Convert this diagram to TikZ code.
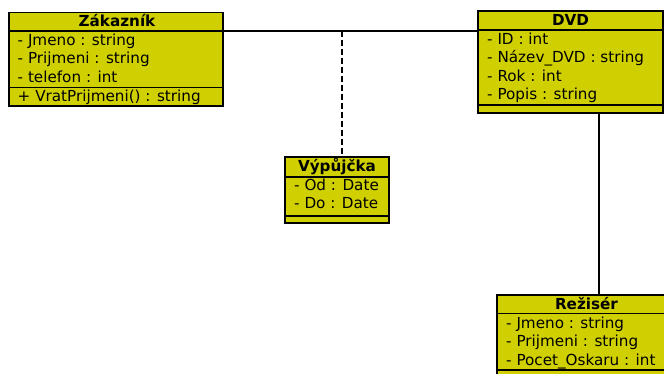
\documentclass[tikz,border=0pt]{standalone}
\usepackage{fontspec}
\setmainfont{DejaVu Sans}
\definecolor{classfill}{RGB}{208,208,0}
\begin{document}
\begin{tikzpicture}[x=1pt,y=-1pt,
  classbox/.style={draw=black, fill=classfill, line width=1.3pt, rectangle, inner sep=0pt},
  sep/.style={draw=black, line width=1.3pt},
  ctitle/.style={anchor=base, inner sep=0pt, font=\fontsize{15.2}{18}\selectfont\bfseries},
  attr/.style={anchor=base west, inner sep=0pt, font=\fontsize{15.2}{18}\selectfont},
  assoc/.style={draw=black, line width=1.3pt},
  link/.style={draw=black, line width=1.3pt, dash pattern=on 6pt off 3pt}]
\useasboundingbox (0,0) rectangle (664,374);
\fill[white] (0,0) rectangle (664,374);

% class Zákazník
\node[classbox, minimum width=214pt, minimum height=93.5pt] (zak) at (116,59.25) {};
\draw[sep] (9,31) -- (223,31);
\draw[sep] (9,87.5) -- (223,87.5);
\node[ctitle] (zakt) at (117,26.7) {Zákazník};
\node[attr] (zak1) at (17.5,45.3) {- Jmeno : string};
\node[attr] (zak2) at (17.5,63.8) {- Prijmeni : string};
\node[attr] (zak3) at (17.5,82.3) {- telefon : int};
\node[attr] (zak4) at (17.5,101.3) {+ VratPrijmeni() : string};

% class DVD
\node[classbox, minimum width=185pt, minimum height=102pt] (dvd) at (570.5,62) {};
\draw[sep] (478,30) -- (663,30);
\draw[sep] (478,105) -- (663,105);
\node[ctitle] (dvdt) at (570.5,25.5) {DVD};
\node[attr] (dvd1) at (487,44.3) {- ID : int};
\node[attr] (dvd2) at (487,62.8) {- Název\_DVD : string};
\node[attr] (dvd3) at (487,81.3) {- Rok : int};
\node[attr] (dvd4) at (487,99.8) {- Popis : string};

% association class Výpůjčka
\node[classbox, minimum width=104pt, minimum height=66pt] (vyp) at (337,190) {};
\draw[sep] (285,177) -- (389,177);
\draw[sep] (285,216) -- (389,216);
\node[ctitle] (vypt) at (337,171.5) {Výpůjčka};
\node[attr] (vyp1) at (294,190.5) {- Od : Date};
\node[attr] (vyp2) at (294,209) {- Do : Date};

% class Režisér
\node[classbox, minimum width=179pt, minimum height=85pt] (rez) at (586.5,337.5) {};
\draw[sep] (497,313.5) -- (676,313.5);
\draw[sep] (497,370) -- (676,370);
\node[ctitle] (rezt) at (586.5,309) {Režisér};
\node[attr] (rez1) at (506,328) {- Jmeno : string};
\node[attr] (rez2) at (506,346.5) {- Prijmeni : string};
\node[attr] (rez3) at (506,365) {- Pocet\_Oskaru : int};

% connectors
\coordinate (amid) at (342,31);
\coordinate (dvdrez) at (599,0);
\draw[assoc] (zak.east |- amid) -- (dvd.west |- amid);
\draw[link] (amid) -- (vyp.north -| amid);
\draw[assoc] (dvd.south -| dvdrez) -- (rez.north -| dvdrez);
\end{tikzpicture}
\end{document}
